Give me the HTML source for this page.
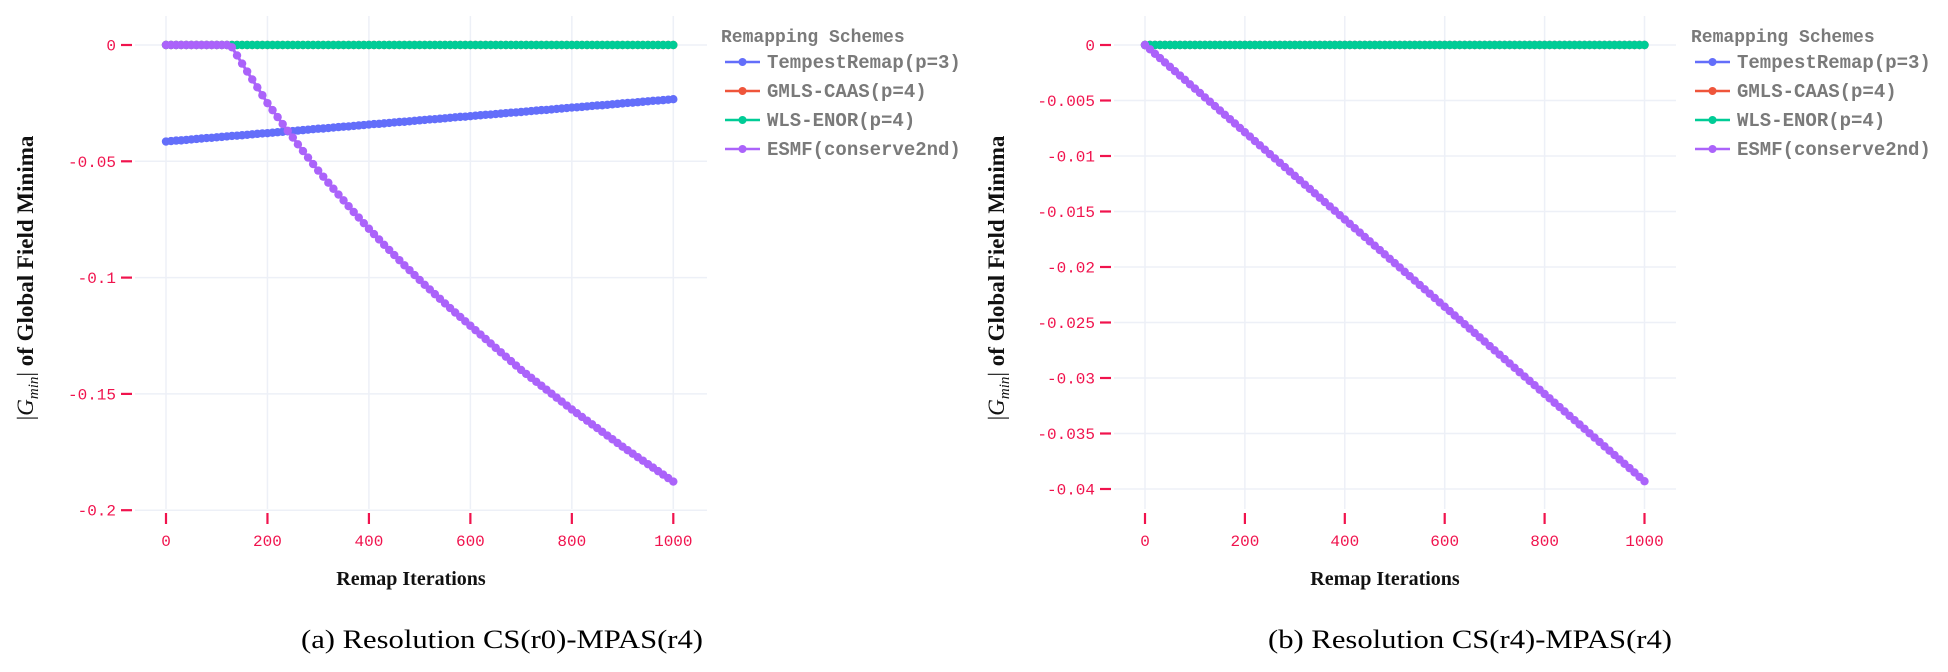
<!DOCTYPE html>
<html><head><meta charset="utf-8"><style>
html,body{margin:0;padding:0;background:#fff;}
svg{display:block;}
</style></head><body>
<svg id="fig" width="1948" height="672" viewBox="0 0 1948 672" xmlns="http://www.w3.org/2000/svg"></svg>
<script>
const iterations = [0,10,20,30,40,50,60,70,80,90,100,110,120,130,140,150,160,170,180,190,200,210,220,230,240,250,260,270,280,290,300,310,320,330,340,350,360,370,380,390,400,410,420,430,440,450,460,470,480,490,500,510,520,530,540,550,560,570,580,590,600,610,620,630,640,650,660,670,680,690,700,710,720,730,740,750,760,770,780,790,800,810,820,830,840,850,860,870,880,890,900,910,920,930,940,950,960,970,980,990,1000];
const zeros = [0,0,0,0,0,0,0,0,0,0,0,0,0,0,0,0,0,0,0,0,0,0,0,0,0,0,0,0,0,0,0,0,0,0,0,0,0,0,0,0,0,0,0,0,0,0,0,0,0,0,0,0,0,0,0,0,0,0,0,0,0,0,0,0,0,0,0,0,0,0,0,0,0,0,0,0,0,0,0,0,0,0,0,0,0,0,0,0,0,0,0,0,0,0,0,0,0,0,0,0,0];
const leftTempest = [-0.0415,-0.0413,-0.0411,-0.0410,-0.0408,-0.0406,-0.0404,-0.0402,-0.0400,-0.0399,-0.0397,-0.0395,-0.0393,-0.0391,-0.0390,-0.0388,-0.0386,-0.0384,-0.0382,-0.0380,-0.0379,-0.0377,-0.0375,-0.0373,-0.0371,-0.0370,-0.0368,-0.0366,-0.0364,-0.0362,-0.0360,-0.0359,-0.0357,-0.0355,-0.0353,-0.0351,-0.0350,-0.0348,-0.0346,-0.0344,-0.0342,-0.0340,-0.0339,-0.0337,-0.0335,-0.0333,-0.0331,-0.0330,-0.0328,-0.0326,-0.0324,-0.0322,-0.0320,-0.0319,-0.0317,-0.0315,-0.0313,-0.0311,-0.0309,-0.0308,-0.0306,-0.0304,-0.0302,-0.0300,-0.0299,-0.0297,-0.0295,-0.0293,-0.0291,-0.0290,-0.0288,-0.0286,-0.0284,-0.0282,-0.0280,-0.0279,-0.0277,-0.0275,-0.0273,-0.0271,-0.0269,-0.0268,-0.0266,-0.0264,-0.0262,-0.0260,-0.0259,-0.0257,-0.0255,-0.0253,-0.0251,-0.0249,-0.0248,-0.0246,-0.0244,-0.0242,-0.0240,-0.0239,-0.0237,-0.0235,-0.0233];
const leftGmls = zeros;
const leftWls = zeros;
const leftEsmf = [0,0,0,0,0,0,0,0,0,0,0,0,0,-0.0010,-0.0045,-0.0080,-0.0114,-0.0148,-0.0182,-0.0216,-0.0250,-0.0280,-0.0310,-0.0340,-0.0369,-0.0398,-0.0427,-0.0456,-0.0484,-0.0512,-0.0540,-0.0566,-0.0592,-0.0618,-0.0643,-0.0668,-0.0693,-0.0718,-0.0742,-0.0766,-0.0790,-0.0813,-0.0836,-0.0859,-0.0881,-0.0903,-0.0925,-0.0947,-0.0968,-0.0989,-0.1010,-0.1031,-0.1051,-0.1071,-0.1091,-0.1111,-0.1131,-0.1150,-0.1169,-0.1188,-0.1207,-0.1226,-0.1245,-0.1264,-0.1283,-0.1302,-0.1321,-0.1340,-0.1359,-0.1378,-0.1397,-0.1414,-0.1431,-0.1448,-0.1465,-0.1482,-0.1499,-0.1516,-0.1533,-0.1550,-0.1567,-0.1583,-0.1599,-0.1615,-0.1631,-0.1647,-0.1663,-0.1679,-0.1695,-0.1711,-0.1727,-0.1742,-0.1757,-0.1772,-0.1787,-0.1802,-0.1817,-0.1832,-0.1847,-0.1862,-0.1877];
const rightTempest = zeros;
const rightGmls = zeros;
const rightWls = zeros;
const rightEsmf = [0,-0.00039,-0.00079,-0.00118,-0.00157,-0.00197,-0.00236,-0.00275,-0.00314,-0.00354,-0.00393,-0.00432,-0.00472,-0.00511,-0.00550,-0.00590,-0.00629,-0.00668,-0.00707,-0.00747,-0.00786,-0.00825,-0.00865,-0.00904,-0.00943,-0.00983,-0.01022,-0.01061,-0.01100,-0.01140,-0.01179,-0.01218,-0.01258,-0.01297,-0.01336,-0.01376,-0.01415,-0.01454,-0.01493,-0.01533,-0.01572,-0.01611,-0.01651,-0.01690,-0.01729,-0.01769,-0.01808,-0.01847,-0.01886,-0.01926,-0.01965,-0.02004,-0.02044,-0.02083,-0.02122,-0.02162,-0.02201,-0.02240,-0.02279,-0.02319,-0.02358,-0.02397,-0.02437,-0.02476,-0.02515,-0.02555,-0.02594,-0.02633,-0.02672,-0.02712,-0.02751,-0.02790,-0.02830,-0.02869,-0.02908,-0.02948,-0.02987,-0.03026,-0.03065,-0.03105,-0.03144,-0.03183,-0.03223,-0.03262,-0.03301,-0.03341,-0.03380,-0.03419,-0.03458,-0.03498,-0.03537,-0.03576,-0.03616,-0.03655,-0.03694,-0.03734,-0.03773,-0.03812,-0.03851,-0.03891,-0.03930];
const xTicks = [0,200,400,600,800,1000];
const leftYTicks = [0,-0.05,-0.1,-0.15,-0.2];
const leftYLabels = ["0","-0.05","-0.1","-0.15","-0.2"];
const rightYTicks = [0,-0.005,-0.01,-0.015,-0.02,-0.025,-0.03,-0.035,-0.04];
const rightYLabels = ["0","-0.005","-0.01","-0.015","-0.02","-0.025","-0.03","-0.035","-0.04"];
const seriesNames = ["TempestRemap(p=3)","GMLS-CAAS(p=4)","WLS-ENOR(p=4)","ESMF(conserve2nd)"];
const seriesColors = ["#636efa","#ef553b","#00cc96","#ab63fa"];

const NS = "http://www.w3.org/2000/svg";
const svg = document.getElementById('fig');
function mk(tag, attrs, parent){
  const e = document.createElementNS(NS, tag);
  for (const k in attrs) e.setAttribute(k, attrs[k]);
  (parent||svg).appendChild(e);
  return e;
}
const TICK = "#f0134d";

function drawPanel(p){
  const g = mk('g', {});
  
  
  const sx = v => p.x0 + (v - 0) / 1000 * (p.x1 - p.x0);
  const sy = v => p.y0 + (v - 0) / p.yRef * (p.yRefPx - p.y0);
  const grid = mk('g', {}, g);
  
  
  p.yTicks.forEach(t => {
    const l = mk('line', {x1:p.left, x2:p.right, y1:sy(t), y2:sy(t), stroke:'#edf0f7', 'stroke-width':1.5}, grid);
    
    
  });
  xTicks.forEach(t => {
    const l = mk('line', {x1:sx(t), x2:sx(t), y1:p.top, y2:p.bottom, stroke:'#edf0f7', 'stroke-width':1.5}, grid);
    
    
  });
  p.yTicks.forEach((t,i) => {
    const l = mk('line', {x1:p.left-14, x2:p.left-3, y1:sy(t), y2:sy(t), stroke:TICK, 'stroke-width':2.2}, g);
    
    
    const tx = mk('text', {x:p.left-19, y:sy(t)+5.5, 'text-anchor':'end', fill:TICK, 'font-family':'"Liberation Mono", monospace', 'font-size':16}, g);
    tx.textContent = p.yLabels[i];
    
    
  });
  xTicks.forEach(t => {
    const l = mk('line', {x1:sx(t), x2:sx(t), y1:p.bottom+4, y2:p.bottom+15, stroke:TICK, 'stroke-width':2.2}, g);
    
    
    const tx = mk('text', {x:sx(t), y:p.bottom+37, 'text-anchor':'middle', fill:TICK, 'font-family':'"Liberation Mono", monospace', 'font-size':16}, g);
    tx.textContent = String(t);
    
    
  });
  p.series.forEach((vals, si) => {
    const sg = mk('g', {}, g);
    
    
    const pts = vals.map((v,i) => sx(iterations[i]).toFixed(2) + ',' + sy(v).toFixed(2)).join(' ');
    const pl = mk('polyline', {points:pts, fill:'none', stroke:seriesColors[si], 'stroke-width':3}, sg);
    
    
    vals.forEach((v,i) => {
      const c = mk('circle', {cx:sx(iterations[i]), cy:sy(v), r:4.2, fill:seriesColors[si]}, sg);
      
      
    });
  });
  const xt = mk('text', {x:p.xTitleX, y:p.bottom+76, 'text-anchor':'middle', fill:'#111', 'font-family':'"Liberation Serif", serif', 'font-weight':'bold', 'font-size':20}, g);
  xt.textContent = 'Remap Iterations';
  
  
  const yt = mk('text', {transform:'translate(' + p.yTitleX + ',278) rotate(-90)', 'text-anchor':'middle', fill:'#111', 'font-family':'"Liberation Serif", serif', 'font-weight':'bold', 'font-size':23}, g);
  
  
  const a = mk('tspan', {'font-weight':'normal'}, yt); a.textContent = '|';
  const b = mk('tspan', {'font-style':'italic','font-weight':'normal'}, yt); b.textContent = 'G';
  const c2 = mk('tspan', {'font-style':'italic','font-weight':'normal','font-size':15, dy:5}, yt); c2.textContent = 'min';
  const d = mk('tspan', {'font-weight':'normal', dy:-5}, yt); d.textContent = '| ';
  const e = mk('tspan', {}, yt); e.textContent = 'of Global Field Minima';
  const lg = mk('g', {}, g);
  
  
  const lt = mk('text', {x:p.legX, y:42, fill:'#7a7a7a', 'font-family':'"Liberation Mono", monospace', 'font-weight':'bold', 'font-size':18}, lg);
  lt.textContent = 'Remapping Schemes';
  
  
  seriesNames.forEach((nm, i) => {
    const y = 62 + i*29;
    const eg = mk('g', {}, lg);
    
    
    mk('line', {x1:p.legX+4, x2:p.legX+39, y1:y, y2:y, stroke:seriesColors[i], 'stroke-width':2.5}, eg);
    mk('circle', {cx:p.legX+21.5, cy:y, r:4, fill:seriesColors[i]}, eg);
    const tx = mk('text', {x:p.legX+46, y:y+6, fill:'#7a7a7a', 'font-family':'"Liberation Mono", monospace', 'font-weight':'bold', 'font-size':19}, eg);
    tx.textContent = nm;
  });
  const cap = mk('text', {x:p.capX, y:648, 'text-anchor':'middle', fill:'#000', 'font-family':'"Liberation Serif", serif', 'font-size':26, textLength:p.capW, lengthAdjust:'spacingAndGlyphs'}, g);
  cap.textContent = p.caption;
  
  
}

drawPanel({name:'left-chart', x0:166, x1:673.3, y0:45, yRef:-0.05, yRefPx:161.3, left:135, right:707, top:16, bottom:509,
  yTicks:leftYTicks, yLabels:leftYLabels, series:[leftTempest,leftGmls,leftWls,leftEsmf],
  xTitleX:411, yTitleX:33, legX:721, capX:502, capW:402, caption:'(a) Resolution CS(r0)-MPAS(r4)'});
drawPanel({name:'right-chart', x0:1145, x1:1644.5, y0:45, yRef:-0.005, yRefPx:100.5, left:1114, right:1676, top:16, bottom:509,
  yTicks:rightYTicks, yLabels:rightYLabels, series:[rightTempest,rightGmls,rightWls,rightEsmf],
  xTitleX:1385, yTitleX:1004, legX:1691, capX:1470, capW:404, caption:'(b) Resolution CS(r4)-MPAS(r4)'});
</script>
</body></html>
